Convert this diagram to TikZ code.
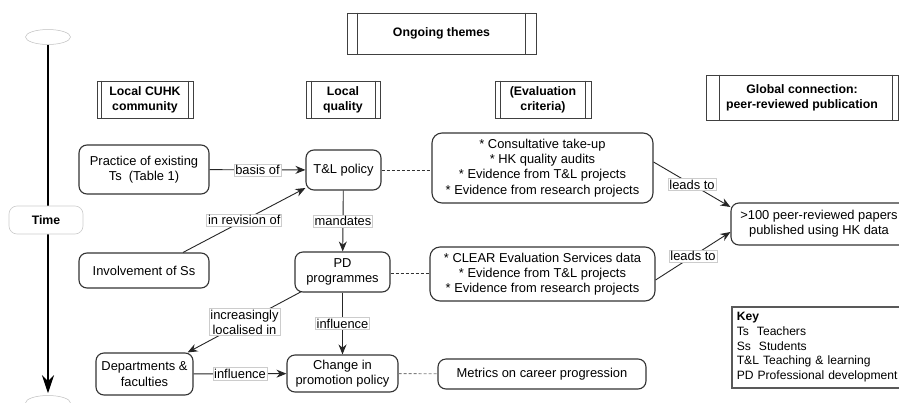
\documentclass[tikz,border=0pt]{standalone}
\usepackage{fontspec}
\setmainfont{Liberation Sans}
\usetikzlibrary{arrows.meta,shapes.geometric}
\newcommand\fs{\fontsize{12.9}{15.2}\selectfont}
\newcommand\fb{\fontsize{12.3}{15.2}\selectfont\bfseries}
\tikzset{
 base/.style={font=\fs, align=center, inner sep=0pt},
 hdr/.style={base, draw=black!75, line width=0.9pt, font=\fb},
 hdrline/.style={draw=black!75, line width=0.9pt},
 rbox/.style={base, draw=black!80, line width=1.1pt, rounded corners=8pt, fill=white},
 lbl/.style={font=\fs, fill=white, draw=black!20, line width=0.5pt, inner sep=1.3pt, align=center},
 conn/.style={draw=black!85, line width=0.9pt},
 arr/.style={conn, -{Stealth[length=10pt,width=8pt]}},
 dsh/.style={draw=black!80, line width=0.9pt, dash pattern=on 3pt off 2pt},
 tend/.style={ellipse, draw=black!25, line width=0.5pt, minimum width=45pt, minimum height=15pt, inner sep=0pt},
}
\begin{document}
\begin{tikzpicture}[x=1pt,y=-1pt]
\useasboundingbox (0,0) rectangle (899,402);
\clip (0,0) rectangle (899,402);
\fill[white] (0,0) rectangle (899,402);

% time axis
\node[tend] (e1) at (48,37) {};
\node[tend] (e2) at (48,403) {};
\draw[line width=2pt, -{Stealth[length=18pt,width=12pt]}, shorten >=2pt] (e1.south) -- (e2.north);
\node[base, draw=black!20, line width=0.6pt, rounded corners=8pt, fill=white, minimum width=74pt, minimum height=28pt, font=\fb] (time) at (46,220) {Time};

% headers
\node[hdr, minimum width=189pt, minimum height=41pt] (hOng) at (441.5,33.5) {Ongoing themes};
\node[hdr, minimum width=96pt, minimum height=37pt] (hLoc) at (145,99.5) {Local CUHK\\community};
\node[hdr, minimum width=74pt, minimum height=37pt] (hQual) at (343,99.5) {Local\\quality};
\node[hdr, minimum width=96pt, minimum height=37pt] (hEval) at (543,99.5) {(Evaluation\\criteria)};
\node[hdr, minimum width=192pt, minimum height=45pt] (hGlob) at (802,97.5) {Global connection:\\peer-reviewed publication};
\foreach \n/\l/\r in {hOng/11/11, hLoc/5/5, hQual/6/5, hEval/6/6, hGlob/14/6}{
  \draw[hdrline] ([xshift=\l pt]\n.north west) -- ([xshift=\l pt]\n.south west);
  \draw[hdrline] ([xshift=-\r pt]\n.north east) -- ([xshift=-\r pt]\n.south east);
}

% main nodes
\node[rbox, minimum width=130pt, minimum height=49pt] (prac) at (144,169.5) {Practice of existing\\Ts\ \ (Table 1)};
\node[rbox, minimum width=130pt, minimum height=35pt] (invol) at (144,270.5) {Involvement of Ss};
\node[rbox, minimum width=75pt, minimum height=40pt] (tl) at (343.5,170) {T\&L policy};
\node[rbox, minimum width=95pt, minimum height=40pt] (pd) at (342.5,272) {PD\\programmes};
\node[rbox, rounded corners=10pt, minimum width=221pt, minimum height=70pt] (ev1) at (542.5,168) {* Consultative take-up\\* HK quality audits\\* Evidence from T\&L projects\\* Evidence from research projects};
\node[rbox, rounded corners=10pt, minimum width=225pt, minimum height=54pt] (ev2) at (542.5,274) {* CLEAR Evaluation Services data\\* Evidence from T\&L projects\\* Evidence from research projects};
\node[rbox, minimum width=176pt, minimum height=42pt] (pub) at (819,224) {>100 peer-reviewed papers\\published using HK data};
\node[rbox, minimum width=97pt, minimum height=42pt] (dept) at (144.5,374) {Departments \&\\faculties};
\node[rbox, minimum width=111pt, minimum height=37pt] (chg) at (342.5,373.5) {Change in\\promotion policy};
\node[rbox, minimum width=208pt, minimum height=30pt] (met) at (542,374) {Metrics on career progression};

% key
\node[draw=black!65, line width=1.6pt, anchor=north west, inner xsep=5pt, inner ysep=3pt, text width=180pt, minimum height=81pt, align=left, font=\fontsize{12.1}{14.7}\selectfont] (key) at (731,306)
 {\textbf{Key}\\Ts\ \ Teachers\\Ss\ \ Students\\T\&L Teaching \& learning\\PD Professional development};

% connectors
\draw[arr] (prac) -- node[lbl]{basis of} (tl);
\draw[arr] ([xshift=39pt]invol.north) -- node[lbl]{in revision of} ([yshift=-18pt]tl.west);
\draw[arr] (tl) -- node[lbl]{mandates} (pd);
\draw[dsh] (tl.east) -- (tl.east -| ev1.west);
\draw[arr] ([yshift=6pt]ev1.east) -- node[lbl]{leads to} ([yshift=17pt]pub.west);
\draw[arr] ([yshift=-6pt]ev2.east) -- node[lbl]{leads to} ([yshift=-8pt]pub.west);
\draw[dsh] ([yshift=-1pt]pd.east) -- ([yshift=-1pt]pd.east -| ev2.west);
\draw[arr] ([xshift=7pt,yshift=1pt]pd.south west) -- node[lbl]{increasingly\\localised in} ([xshift=-6pt]dept.north east);
\draw[arr] (pd) -- node[lbl]{influence} (chg);
\draw[arr] (dept) -- node[lbl]{influence} (chg);
\draw[dsh, draw=black!50] (chg) -- (met);
\end{tikzpicture}
\end{document}
